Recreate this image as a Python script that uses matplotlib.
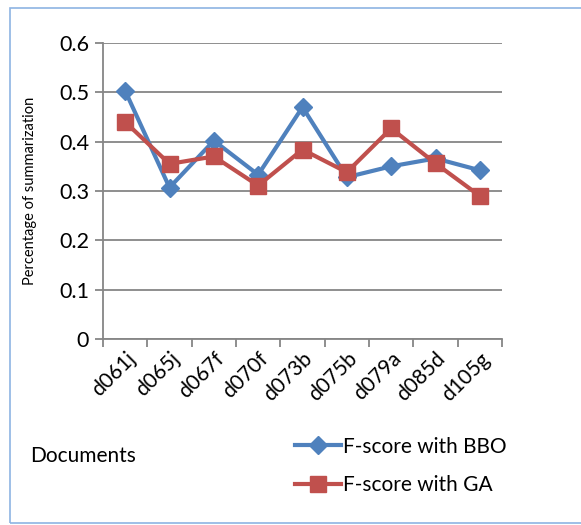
import matplotlib.pyplot as plt
from matplotlib.patches import Rectangle

# Data
docs = ['d061j', 'd065j', 'd067f', 'd070f', 'd073b', 'd075b', 'd079a', 'd085d', 'd105g']
bbo = [0.503, 0.307, 0.402, 0.333, 0.470, 0.328, 0.350, 0.366, 0.342]
ga = [0.440, 0.355, 0.370, 0.311, 0.384, 0.338, 0.427, 0.356, 0.290]

blue = '#4F81BD'
red = '#C0504D'
grey = '#868686'

plt.rcParams['font.family'] = ['Lato', 'DejaVu Sans']

fig = plt.figure(figsize=(5.81, 5.25), dpi=100)
# outer chart border
fig.patches.append(Rectangle((10 / 581, 2 / 525), 575 / 581, 515 / 525, transform=fig.transFigure,
                             fill=False, edgecolor='#8EB4E3', linewidth=1.2))

ax = fig.add_axes([103 / 581, 186 / 525, 399 / 581, 296 / 525])
x = range(len(docs))
ax.plot(x, bbo, color=blue, linewidth=3, marker='D', markersize=9, label='F-score with BBO', zorder=3)
ax.plot(x, ga, color=red, linewidth=3, marker='s', markersize=12, label='F-score with GA', zorder=4)

ax.set_xlim(-0.5, len(docs) - 0.5)
ax.set_ylim(0, 0.6)
ax.set_yticks([0, 0.1, 0.2, 0.3, 0.4, 0.5, 0.6])
ax.set_yticklabels(['0', '0.1', '0.2', '0.3', '0.4', '0.5', '0.6'], fontsize=15.5)
ax.yaxis.grid(True, color=grey, linewidth=1.3)
ax.set_axisbelow(True)

# category boundaries as ticks, names in between
ax.set_xticks([i - 0.5 for i in range(len(docs) + 1)])
ax.set_xticklabels([])
ax.set_xticks(list(x), minor=True)
ax.set_xticklabels(docs, minor=True, rotation=45, ha='right', va='top',
                   rotation_mode='anchor', fontsize=15)
ax.tick_params(axis='x', which='minor', length=0, pad=7)
ax.tick_params(axis='x', which='major', length=6, color=grey, width=1.3, direction='out')
ax.tick_params(axis='y', length=6, color=grey, width=1.3, pad=4)

for s in ['top', 'right']:
    ax.spines[s].set_visible(False)
for s in ['left', 'bottom']:
    ax.spines[s].set_color(grey)
    ax.spines[s].set_linewidth(1.3)

ax.set_ylabel('Percentage of summarization', fontsize=10.5, labelpad=16)

fig.text(30 / 581, 1 - 456 / 525, 'Documents', fontsize=15, va='center')

fig.legend(loc='center left', bbox_to_anchor=(276 / 581, 1 - 466 / 525), frameon=False,
           fontsize=15, handlelength=2.2, handletextpad=0.1, labelspacing=0.9)

plt.savefig('out.png')
